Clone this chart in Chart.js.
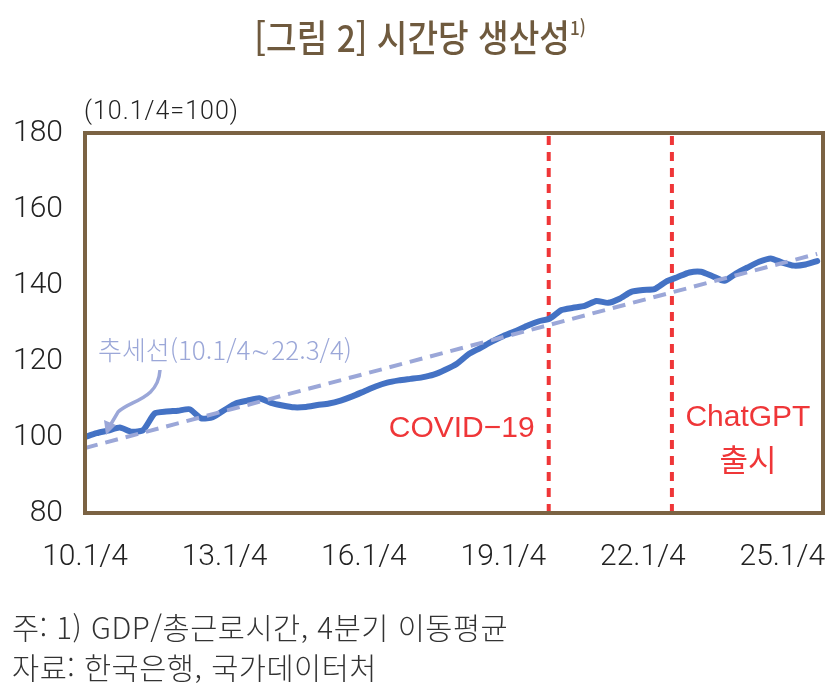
<!DOCTYPE html>
<html lang="ko">
<head>
<meta charset="utf-8">
<script src="https://cdn.jsdelivr.net/npm/chart.js@4.4.1/dist/chart.umd.min.js"></script>
<style>
  body { margin: 0; background: #fff; }
  #wrap { position: relative; width: 840px; height: 700px; overflow: hidden; }
  #grafico { position: absolute; left: 0; top: 0; }
  .txt { position: absolute; white-space: nowrap; }
  #titulo { left: 0; width: 840px; top: 9px; text-align: center; color: #6f5a3e;
    font: 500 37px 'Noto Sans CJK KR', sans-serif; transform: scaleX(0.9); }
  #titulo sup { font-size: 19px; vertical-align: 17px; }
  #unidade { left: 84px; top: 96px; color: #222; font: 300 25px Roboto, sans-serif; letter-spacing: 1px; }
  .nota { left: 12px; color: #333; font: 300 29.5px 'Noto Sans CJK KR', sans-serif; letter-spacing: 0.5px; }
</style>
</head>
<body>
<div id="wrap">
  <canvas id="grafico" width="840" height="700"></canvas>
  <div class="txt" id="titulo">[그림 2] 시간당 생산성<sup>1)</sup></div>
  <div class="txt" id="unidade">(10.1/4=100)</div>
  <div class="txt nota" style="top:605px">주: 1) GDP/총근로시간, 4분기 이동평균</div>
  <div class="txt nota" style="top:645px">자료: 한국은행, 국가데이터처</div>
</div>
<script>
// Trimestres 2010 Q1 ~ 2025 Q4
const anos = [10, 11, 12, 13, 14, 15, 16, 17, 18, 19, 20, 21, 22, 23, 24, 25];
const trimestres = [];
anos.forEach(a => { for (let q = 1; q <= 4; q++) trimestres.push(a + "." + q + "/4"); });

// Produtividade por hora (10.1/4=100), media movel de 4 trimestres
const produtividade = [
  100.0, 101.0, 101.7, 102.5, 101.4, 101.8, 106.2, 106.7, 106.9, 107.3,
  104.9, 105.2, 107.1, 108.9, 109.6, 110.2, 109.0, 108.3, 107.8, 107.9,
  108.4, 108.8, 109.6, 110.7, 112.0, 113.3, 114.3, 114.9, 115.3, 115.7,
  116.4, 117.7, 119.3, 121.8, 123.4, 125.1, 126.6, 127.8, 129.2, 130.4,
  131.2, 133.4, 134.0, 134.5, 135.8, 135.3, 136.4, 138.2, 138.7, 138.9,
  140.9, 142.1, 143.3, 143.5, 142.3, 141.1, 143.0, 144.6, 146.1, 147.0,
  145.9, 145.1, 145.4, 146.3
];

// Linha de tendencia (10.1/4~22.3/4), extremos
const tendenciaX = [0, 63];
const tendenciaY = [97.1, 148.2];

// Eventos (linhas verticais)
const eventosX = [39.9, 50.5];
const eventosNome = [["COVID−19"], ["ChatGPT", "출시"]];

const azul = "#4472c4";
const lilas = "#9ba7d8";
const vermelho = "#ef3638";
const marrom = "#7b6343";

// Moldura, textos e seta
const extras = {
  id: "extras",
  afterDatasetsDraw(chart) {
    const ctx = chart.ctx;
    const a = chart.chartArea;
    const x = chart.scales.x;
    ctx.save();
    ctx.strokeStyle = marrom;
    ctx.lineWidth = 4;
    ctx.strokeRect(a.left, a.top, a.right - a.left, a.bottom - a.top);

    ctx.fillStyle = vermelho;
    ctx.textAlign = "center";
    ctx.textBaseline = "middle";
    ctx.font = "30px 'Liberation Sans', Arial, sans-serif";
    ctx.fillText(eventosNome[0][0], x.getPixelForValue(eventosX[0]) - 87, 429);
    const cx = x.getPixelForValue(eventosX[1]) + 76;
    ctx.fillText(eventosNome[1][0], cx, 418);
    ctx.font = "31px 'Noto Sans CJK KR', sans-serif";
    ctx.fillText(eventosNome[1][1], cx, 459);

    ctx.fillStyle = lilas;
    ctx.textAlign = "left";
    ctx.font = "300 26px 'Noto Sans CJK KR', sans-serif";
    ctx.fillText("추세선(10.1/4∼22.3/4)", 98, 350);

    // seta curva
    ctx.strokeStyle = lilas;
    ctx.lineWidth = 3.5;
    ctx.beginPath();
    ctx.moveTo(160, 370);
    ctx.bezierCurveTo(158, 400, 130, 400, 118, 412);
    ctx.lineTo(111, 424);
    ctx.stroke();
    ctx.fillStyle = lilas;
    ctx.beginPath();
    ctx.moveTo(106, 435);
    ctx.lineTo(104, 420);
    ctx.lineTo(116, 425);
    ctx.closePath();
    ctx.fill();
    ctx.restore();
  }
};

const datasets = [
  {
    label: "추세선",
    data: tendenciaX.map((v, i) => ({ x: v, y: tendenciaY[i] })),
    borderColor: lilas,
    borderWidth: 4,
    borderDash: [13, 8],
    pointRadius: 0
  },
  {
    label: "시간당 생산성",
    data: produtividade.map((v, i) => ({ x: i, y: v })),
    borderColor: azul,
    borderWidth: 6,
    borderCapStyle: "round",
    borderJoinStyle: "round",
    pointRadius: 0,
    tension: 0.2
  }
];
eventosX.forEach(ev => {
  datasets.push({
    label: "evento",
    data: [{ x: ev, y: 80 }, { x: ev, y: 180 }],
    borderColor: vermelho,
    borderWidth: 4,
    borderDash: [9, 7],
    pointRadius: 0
  });
});

new Chart(document.getElementById("grafico"), {
  type: "line",
  data: { datasets },
  options: {
    responsive: false,
    animation: false,
    layout: { padding: { left: 0, top: 133, right: 17, bottom: 0 } },
    plugins: { legend: { display: false }, tooltip: { enabled: false } },
    scales: {
      x: {
        type: "linear",
        min: 0,
        max: 63.5,
        grid: { display: false, drawTicks: false },
        border: { display: false },
        afterFit: s => { s.height = 187; s.paddingLeft = 0; s.paddingRight = 0; },
        ticks: {
          stepSize: 12,
          includeBounds: false,
          autoSkip: false,
          maxRotation: 0,
          padding: 26,
          color: "#222",
          font: { family: "Roboto, sans-serif", size: 30, weight: 300 },
          callback: v => trimestres[v] || ""
        }
      },
      y: {
        min: 80,
        max: 180,
        grid: { display: false, drawTicks: false },
        border: { display: false },
        afterFit: s => { s.width = 85; },
        ticks: {
          stepSize: 20,
          padding: 22,
          color: "#222",
          font: { family: "Roboto, sans-serif", size: 30, weight: 300 }
        }
      }
    }
  },
  plugins: [extras]
});
</script>
</body>
</html>
